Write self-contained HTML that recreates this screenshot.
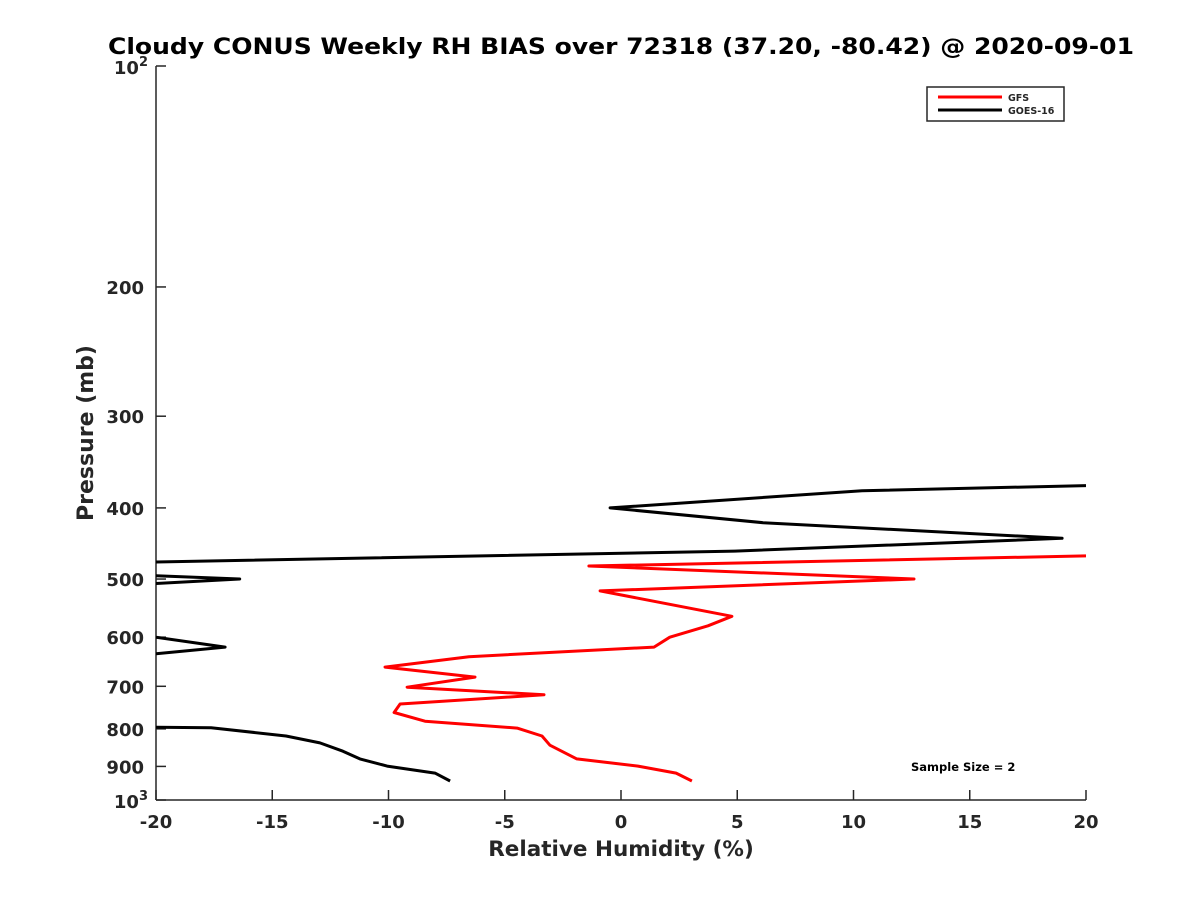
<!DOCTYPE html>
<html><head><meta charset="utf-8"><style>
html,body{margin:0;padding:0;background:#fff;}
svg text{font-family:"DejaVu Sans","Liberation Sans",sans-serif;font-weight:bold;fill:#262626;}
</style></head><body>
<svg id="chart" width="1200" height="900" xmlns="http://www.w3.org/2000/svg">
<defs><clipPath id="plotclip"><rect x="156" y="66" width="930" height="734"/></clipPath></defs>
<text x="621" y="54" font-size="22" text-anchor="middle" textLength="1026" lengthAdjust="spacingAndGlyphs" style="fill:#000">Cloudy CONUS Weekly RH BIAS over 72318 (37.20, -80.42) @ 2020-09-01</text>
<g id="axes"></g>
<g id="series" clip-path="url(#plotclip)"></g>
<g>
<rect x="927" y="87" width="137" height="34" fill="#fff" stroke="#262626" stroke-width="1.5"/>
<line x1="938" y1="97" x2="1002" y2="97" stroke="#f00" stroke-width="3"/>
<text x="1008" y="101" font-size="9.5">GFS</text>
<line x1="938" y1="110" x2="1002" y2="110" stroke="#000" stroke-width="3"/>
<text x="1008" y="114" font-size="9.5">GOES-16</text>
</g>
<text x="911" y="771" font-size="11.5" style="fill:#000">Sample Size = 2</text>
<text x="621" y="856" font-size="21.5" text-anchor="middle">Relative Humidity (%)</text>
<text transform="translate(93,433) rotate(-90)" font-size="22" text-anchor="middle">Pressure (mb)</text>
</svg>
<script>
const xTicks=[-20,-15,-10,-5,0,5,10,15,20];
const yTicks=[100,200,300,400,500,600,700,800,900,1000];
const yTickLabels=["","200","300","400","500","600","700","800","900",""];
const gfsRH=[20,-1.38,12.6,-0.9,4.77,3.74,2.1,1.42,-6.54,-10.15,-6.28,-9.2,-3.31,-9.5,-9.76,-8.43,-4.47,-3.4,-3.06,-1.9,0.73,2.37,3.05];
const gfsP=[465,480,500,519,562,579,600,619,638,659,680,702,719,740,760,781,798,818,842,879,899,919,942];
const goesTopRH=[20,10.37,-0.47,6.11,18.97,4.9,-20];
const goesTopP=[373,379,400,419,440,458,474];
const goesMid1RH=[-20,-16.4,-20];
const goesMid1P=[495,500,507];
const goesMid2RH=[-20,-17.03,-20];
const goesMid2P=[600,619,632];
const goesBotRH=[-20,-17.63,-14.41,-12.95,-11.96,-11.23,-10.06,-8.0,-7.35];
const goesBotP=[796,797,818,836,858,879,899,919,942];
const X0=156,X1=1086,Y0=66,Y1=800;
function xs(v){return X0+(v+20)/40*(X1-X0);}
function ys(p){return Y0+(Math.log10(p)-2)*(Y1-Y0);}
const NS="http://www.w3.org/2000/svg";
const axes=document.getElementById('axes'),series=document.getElementById('series');
function mk(t,a,parent){const e=document.createElementNS(NS,t);for(const k in a)e.setAttribute(k,a[k]);parent.appendChild(e);return e;}
let l=mk('line',{x1:X0,y1:Y0,x2:X0,y2:Y1,stroke:'#262626','stroke-width':1.5},axes);


l=mk('line',{x1:X0,y1:Y1,x2:X1,y2:Y1,stroke:'#262626','stroke-width':1.5},axes);


xTicks.forEach(v=>{
 const t=mk('line',{x1:xs(v),y1:Y1,x2:xs(v),y2:Y1-10,stroke:'#262626','stroke-width':1.5},axes);
 
 
 const tx=mk('text',{x:xs(v),y:Y1+28,'font-size':18,'text-anchor':'middle'},axes);
 tx.textContent=String(v);
 
 
});
yTicks.forEach((p,i)=>{
 const t=mk('line',{x1:X0,y1:ys(p),x2:X0+10,y2:ys(p),stroke:'#262626','stroke-width':1.5},axes);
 
 
 if(yTickLabels[i]){
  const tx=mk('text',{x:X0-12,y:ys(p)+7,'font-size':18,'text-anchor':'end'},axes);
  tx.textContent=yTickLabels[i];
  
  
 }
});
[[100,"2"],[1000,"3"]].forEach(([p,e])=>{
 const tx=mk('text',{x:X0-8,y:ys(p)+8,'font-size':18,'text-anchor':'end'},axes);
 tx.innerHTML='10<tspan dy="-8" font-size="13">'+e+'</tspan>';
 
 
});
function line(rh,p,color,name){
 const pts=rh.map((v,i)=>xs(v).toFixed(1)+','+ys(p[i]).toFixed(1)).join(' ');
 const e=mk('polyline',{points:pts,fill:'none',stroke:color,'stroke-width':3,'stroke-linejoin':'round'},series);
 
 
}
line(gfsRH,gfsP,'#f00','gfs-line');
line(goesTopRH,goesTopP,'#000','goes16-line-upper');
line(goesMid1RH,goesMid1P,'#000','goes16-line-spike-500');
line(goesMid2RH,goesMid2P,'#000','goes16-line-spike-620');
line(goesBotRH,goesBotP,'#000','goes16-line-lower');
</script>
</body></html>
